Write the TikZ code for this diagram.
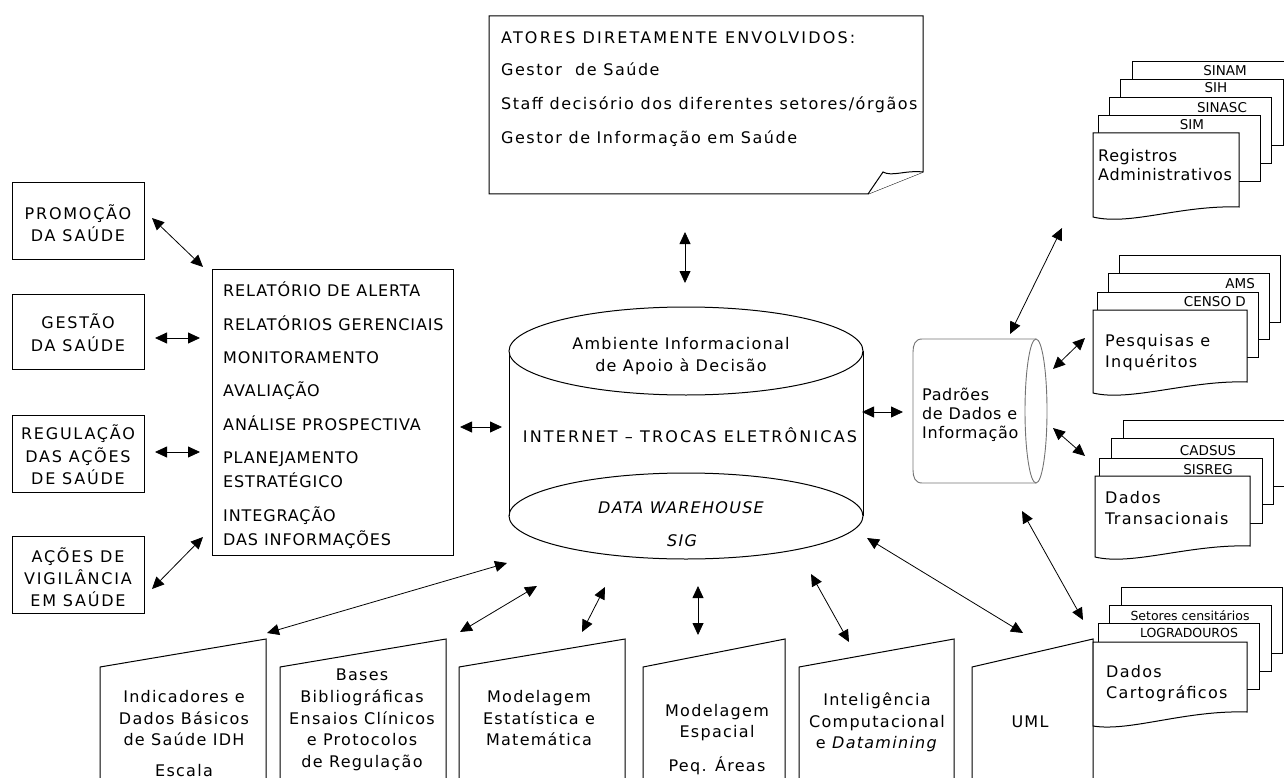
\documentclass[tikz,border=0pt]{standalone}
\usepackage{fontspec}
\setmainfont{DejaVu Sans}
\usetikzlibrary{arrows.meta}

\begin{document}
\begin{tikzpicture}[x=1pt, y=-1pt,
  box/.style={draw=black, line width=1pt, fill=white},
  frame/.style={draw=black, line width=1pt, fill=white, inner sep=0pt, outer sep=0pt, anchor=north west},
  pad/.style={draw=black!55, line width=0.9pt},
  dbl/.style={{Triangle[length=12pt,width=11pt]}-{Triangle[length=12pt,width=11pt]}, line width=0.8pt},
  txt/.style={inner sep=0pt, font=\fontsize{16}{19}\selectfont\addfontfeature{LetterSpace=8}},
  wide/.style={inner sep=0pt, font=\fontsize{16}{19}\selectfont\addfontfeature{LetterSpace=11}},
  head/.style={inner sep=0pt, font=\fontsize{16}{19}\selectfont\addfontfeature{LetterSpace=13.5}},
  note/.style={inner sep=0pt, font=\fontsize{16}{19}\selectfont\addfontfeature{LetterSpace=9.5}},
  list/.style={inner sep=0pt, font=\fontsize{16}{19}\selectfont\addfontfeature{LetterSpace=5.5}},
  tight/.style={inner sep=0pt, font=\fontsize{16}{19}\selectfont\addfontfeature{LetterSpace=4}},
  lbl/.style={inner sep=0pt, font=\fontsize{13.5}{16}\selectfont},
  tiny/.style={inner sep=0pt, font=\fontsize{12.5}{15}\selectfont}]
\useasboundingbox (0,0) rectangle (1284,778);
\clip (0,0) rectangle (1284,778);

% ---------- left column: areas of action ----------
\node[frame, minimum width=132pt, minimum height=76pt] (promo) at (12,183) {};
\node[wide, anchor=base] (promo1) at (78,219) {PROMOÇÃO};
\node[wide, anchor=base] (promo2) at (78,241) {DA SAÚDE};

\node[frame, minimum width=132pt, minimum height=75pt] (gestao) at (12,294) {};
\node[wide, anchor=base] (gestao1) at (78,328) {GESTÃO};
\node[wide, anchor=base] (gestao2) at (78,351) {DA SAÚDE};

\node[frame, minimum width=132pt, minimum height=77pt] (regul) at (12,415) {};
\node[wide, anchor=base] (regul1) at (78,439) {REGULAÇÃO};
\node[wide, anchor=base] (regul2) at (78,462) {DAS AÇÕES};
\node[wide, anchor=base] (regul3) at (78,484) {DE SAÚDE};

\node[frame, minimum width=132pt, minimum height=77pt] (vigil) at (12,536) {};
\node[wide, anchor=base] (vigil1) at (78,562) {AÇÕES DE};
\node[wide, anchor=base] (vigil2) at (78,584) {VIGILÂNCIA};
\node[wide, anchor=base] (vigil3) at (78,606) {EM SAÚDE};

% ---------- reports box ----------
\node[frame, minimum width=241pt, minimum height=286pt] (rep) at (212,269) {};
\node[list, anchor=base west] (rep1) at (223,296) {RELATÓRIO DE ALERTA};
\node[list, anchor=base west] (rep2) at (223,330) {RELATÓRIOS GERENCIAIS};
\node[list, anchor=base west] (rep3) at (223,363) {MONITORAMENTO};
\node[list, anchor=base west] (rep4) at (223,396) {AVALIAÇÃO};
\node[list, anchor=base west] (rep5) at (223,430) {ANÁLISE PROSPECTIVA};
\node[list, anchor=base west] (rep6) at (223,463) {PLANEJAMENTO};
\node[list, anchor=base west] (rep7) at (223,487) {ESTRATÉGICO};
\node[list, anchor=base west] (rep8) at (223,521) {INTEGRAÇÃO};
\node[list, anchor=base west] (rep9) at (223,545) {DAS INFORMAÇÕES};

% ---------- actors note with folded corner ----------
\draw[box] (489,16) -- (923,16) -- (923,172) -- (868,194) -- (489,194) -- cycle;
\draw[box] (868,194) -- (883,172) .. controls (892,177) and (905,170) .. (923,172);
\node[head, anchor=base west] (act1) at (501,44) {ATORES DIRETAMENTE ENVOLVIDOS:};
\node[note, anchor=base west] (act2) at (501,76) {Gestor\ \ de Saúde};
\node[note, anchor=base west] (act3) at (501,110) {Staff decisório dos diferentes setores/órgãos};
\node[note, anchor=base west] (act4) at (501,144) {Gestor de Informação em Saúde};

% ---------- central cylinder ----------
\fill[white] (509,351) rectangle (863,516);
\draw[box] (686,516) ellipse[x radius=177, y radius=43];
\draw[line width=1pt] (509,351) -- (509,516) (863,351) -- (863,516);
\draw[box] (686,351) ellipse[x radius=177, y radius=44];
\node[txt, anchor=base] (amb1) at (681,349) {Ambiente Informacional};
\node[txt, anchor=base] (amb2) at (681,371) {de Apoio à Decisão};
\node[head, anchor=base] (inet) at (690,442) {INTERNET – TROCAS ELETRÔNICAS};
\node[txt, anchor=base] (dw) at (681,513) {\itshape DATA WAREHOUSE};
\node[txt, anchor=base] (sig) at (682,546) {\itshape SIG};

% ---------- data standards cylinder ----------
\draw[pad] (1036,339) -- (922,339) .. controls (915,339) and (913,345) .. (913,352)
  -- (913,470) .. controls (913,477) and (915,483) .. (922,483) -- (1036,483);
\draw[pad] (1036,411) ellipse[x radius=11, y radius=72];
\node[tight, anchor=base west] (pad1) at (922,400) {Padrões};
\node[tight, anchor=base west] (pad2) at (922,419) {de Dados e};
\node[tight, anchor=base west] (pad3) at (922,438) {Informação};

% ---------- bottom boxes (slanted tops) ----------
\draw[box] (100,667) -- (266,639) -- (266,790) -- (100,790) -- cycle;
\node[txt, anchor=base] (ind1) at (184,702) {Indicadores e};
\node[txt, anchor=base] (ind2) at (184,724) {Dados Básicos};
\node[txt, anchor=base] (ind3) at (184,745) {de Saúde IDH};
\node[txt, anchor=base] (ind4) at (184,776) {Escala};

\draw[box] (280,667) -- (446,639) -- (446,790) -- (280,790) -- cycle;
\node[txt, anchor=base] (bib1) at (362,680) {Bases};
\node[txt, anchor=base] (bib2) at (362,702) {Bibliográficas};
\node[txt, anchor=base] (bib3) at (362,724) {Ensaios Clínicos};
\node[txt, anchor=base] (bib4) at (362,745) {e Protocolos};
\node[txt, anchor=base] (bib5) at (362,767) {de Regulação};

\draw[box] (459,667) -- (625,639) -- (625,790) -- (459,790) -- cycle;
\node[txt, anchor=base] (est1) at (539,702) {Modelagem};
\node[txt, anchor=base] (est2) at (539,724) {Estatística e};
\node[txt, anchor=base] (est3) at (539,745) {Matemática};

\draw[box] (643,667) -- (785,639) -- (785,790) -- (643,790) -- cycle;
\node[txt, anchor=base] (esp1) at (717,716) {Modelagem};
\node[txt, anchor=base] (esp2) at (717,737) {Espacial};
\node[txt, anchor=base] (esp3) at (717,771) {Peq. Áreas};

\draw[box] (799,667) -- (954,639) -- (954,790) -- (799,790) -- cycle;
\node[txt, anchor=base] (ic1) at (877,705) {Inteligência};
\node[txt, anchor=base] (ic2) at (877,727) {Computacional};
\node[txt, anchor=base] (ic3) at (877,748) {e \textit{Datamining}};

\draw[box] (972,667) -- (1093,639) -- (1093,790) -- (972,790) -- cycle;
\node[txt, anchor=base] (uml) at (1030,727) {UML};

% ---------- document stacks ----------
% administrative records
\draw[box] (1132,62) rectangle (1295,128);
\draw[box] (1120,80) rectangle (1283,146);
\draw[box] (1109,98) rectangle (1271,164);
\draw[box] (1098,116) rectangle (1260,182);
\draw[box] (1093,133) -- (1239,133) -- (1239,207)
  .. controls (1180,205) and (1130,226) .. (1093,217) -- cycle;
\node[lbl, anchor=base] (sinam) at (1225,76) {SINAM};
\node[lbl, anchor=base] (sih) at (1216,93) {SIH};
\node[lbl, anchor=base] (sinasc) at (1222,113) {SINASC};
\node[lbl, anchor=base] (sim) at (1192,130) {SIM};
\node[tight, anchor=base west] (reg1) at (1098,162) {Registros};
\node[tight, anchor=base west] (reg2) at (1098,181) {Administrativos};

% surveys
\draw[box] (1119,255) rectangle (1280,322);
\draw[box] (1108,273) rectangle (1269,339);
\draw[box] (1097,292) rectangle (1258,357);
\draw[box] (1093,310) -- (1247,310) -- (1247,382)
  .. controls (1190,380) and (1130,402) .. (1093,393) -- cycle;
\node[lbl, anchor=base east] (ams) at (1255,288) {AMS};
\node[lbl, anchor=base east] (censo) at (1246,306) {CENSO D};
\node[txt, anchor=base west] (pes1) at (1105,346) {Pesquisas e};
\node[txt, anchor=base west] (pes2) at (1105,367) {Inquéritos};

% transactional data
\draw[box] (1123,420) rectangle (1295,486);
\draw[box] (1111,438) rectangle (1273,504);
\draw[box] (1099,458) rectangle (1262,523);
\draw[box] (1095,476) -- (1250,476) -- (1250,546)
  .. controls (1190,544) and (1132,566) .. (1095,557) -- cycle;
\node[lbl, anchor=base] (cadsus) at (1208,455) {CADSUS};
\node[lbl, anchor=base] (sisreg) at (1208,474) {SISREG};
\node[txt, anchor=base west] (tra1) at (1105,503) {Dados};
\node[txt, anchor=base west] (tra2) at (1105,524) {Transacionais};

% cartographic data
\draw[box] (1121,587) rectangle (1282,653);
\draw[box] (1109,605) rectangle (1271,671);
\draw[box] (1098,623) rectangle (1259,689);
\draw[box] (1093,642) -- (1247,642) -- (1247,712)
  .. controls (1185,710) and (1130,732) .. (1093,726) -- cycle;
\node[tiny, anchor=base] (setores) at (1190,620) {Setores censitários};
\node[tiny, anchor=base] (lograd) at (1189,637) {LOGRADOUROS};
\node[txt, anchor=base west] (car1) at (1106,677) {Dados};
\node[txt, anchor=base west] (car2) at (1106,698) {Cartográficos};

% ---------- connectors ----------
\foreach \n/\ax/\ay/\bx/\by in {
  promoL/152/218/203/267, gestaoL/155/338/200/338, regulL/155/452/200/452,
  vigilL/152/589/203/537, repL/460/427/502/427, actL/685/232/685/283,
  padL/862/412/903/412, regL/1010/334/1062/228, pesL/1053/369/1085/338,
  traL/1053/428/1085/456, carL/1022/511/1083/620, umlL/867/538/1023/633,
  indL/267/633/507/563, bibL/460/632/537/586, estL/582/632/605/587,
  espL/698/586/698/635, icL/811/574/849/642} {
  \coordinate (\n a) at (\ax,\ay);
  \coordinate (\n b) at (\bx,\by);
  \draw[dbl] (\n a) -- (\n b);
}
\end{tikzpicture}
\end{document}
